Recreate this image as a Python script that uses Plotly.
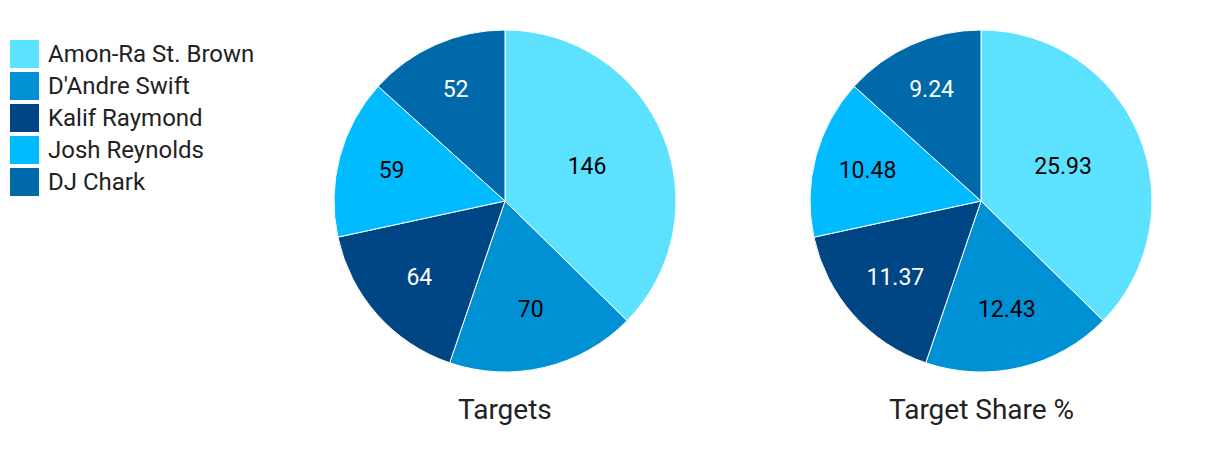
import plotly.graph_objects as go

players = ["Amon-Ra St. Brown", "D'Andre Swift", "Kalif Raymond", "Josh Reynolds", "DJ Chark"]
targets = [146, 70, 64, 59, 52]
target_share = [25.93, 12.43, 11.37, 10.48, 9.24]
colors = ["#5CE1FF", "#0091D5", "#004684", "#00BBFF", "#0069AA"]
text_colors = ["#000000", "#000000", "#FFFFFF", "#000000", "#FFFFFF"]
titles = ["Targets", "Target Share %"]

W, H = 1220, 454
OFF = 8  # page body margin
centers = [505 - OFF, 981 - OFF]
cy, r = 201 - OFF, 171

fig = go.Figure()
for i, vals in enumerate([targets, target_share]):
    cx = centers[i]
    fig.add_trace(go.Pie(
        labels=players, values=vals, sort=False, direction="clockwise", rotation=0,
        marker=dict(colors=colors, line=dict(color="white", width=1)),
        textinfo="value", texttemplate="%{value}", textposition="inside",
        insidetextfont=dict(family="Roboto", size=23, color=text_colors),
        insidetextorientation="horizontal",
        domain=dict(x=[(cx - r) / W, (cx + r) / W], y=[(H - cy - r) / H, (H - cy + r) / H]),
        showlegend=False, hoverinfo="label+value",
    ))
    fig.add_annotation(x=cx / W, y=(H - (409 - OFF)) / H, xref="paper", yref="paper",
                       text=titles[i], showarrow=False, xanchor="center", yanchor="middle",
                       font=dict(family="Roboto", size=28, color="#222222"))

# custom legend
for k, (name, col) in enumerate(zip(players, colors)):
    top = 40 + 32 * k - OFF
    fig.add_shape(type="rect", xref="paper", yref="paper",
                  x0=(10 - OFF) / W, x1=(39 - OFF) / W, y0=(H - top - 28) / H, y1=(H - top) / H,
                  fillcolor=col, line=dict(width=0))
    fig.add_annotation(x=(46 - OFF) / W, y=(H - top - 14) / H, xref="paper", yref="paper",
                       text=name, showarrow=False, xanchor="left", yanchor="middle",
                       font=dict(family="Roboto", size=24, color="#222222"))

fig.update_layout(width=W, height=H, margin=dict(l=0, r=0, t=0, b=0),
                  paper_bgcolor="white", plot_bgcolor="white",
                  font=dict(family="Roboto"))
fig.write_html("out.html")
